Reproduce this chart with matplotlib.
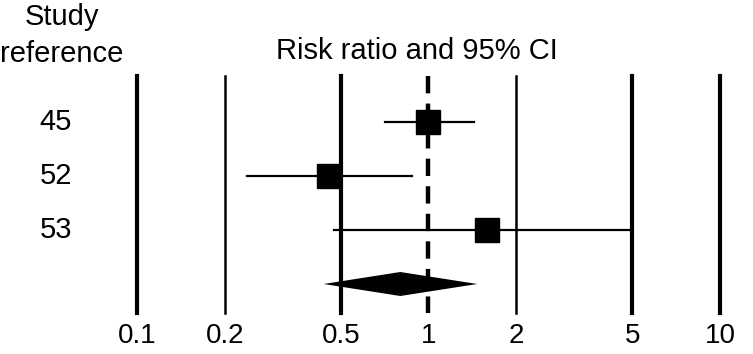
import matplotlib.pyplot as plt
import numpy as np

plt.rcParams['font.family'] = ['Liberation Sans', 'DejaVu Sans']

# Study data (risk ratio and 95% CI)
studies = ["45", "52", "53"]
rr = [1.0, 0.455, 1.59]
ci_low = [0.71, 0.238, 0.475]
ci_high = [1.43, 0.875, 5.0]

# Pooled estimate (diamond)
pooled_rr = 0.80
pooled_low = 0.437
pooled_high = 1.47

ref_lines = [0.1, 0.2, 0.5, 1, 2, 5, 10]
ref_labels = ["0.1", "0.2", "0.5", "1", "2", "5", "10"]
ref_widths = [3.0, 1.8, 3.0, 3.2, 1.8, 3.0, 3.0]

fs = 21

fig = plt.figure(figsize=(7.53, 3.54), dpi=100)
ax = fig.add_axes([0, 0, 1, 1])
ax.set_xscale('log')
# pixel mapping: 0.1 -> 137px, 10 -> 720px
dec = (720 - 137) / 2
ax.set_xlim(10 ** (-1 - 137 / dec), 10 ** (1 + (753 - 720) / dec))
# rows 54px apart, first row at 122px
ax.set_ylim((354 - 122) / 54, -122 / 54)
ax.axis('off')

y_top = (76 - 122) / 54
y_bot = (313 - 122) / 54
for x, lw in zip(ref_lines, ref_widths):
    if x == 1:
        ax.plot([x, x], [y_top, y_bot], color='black', lw=lw,
                dashes=(3.9, 2.3), solid_capstyle='butt', dash_capstyle='butt')
    else:
        ax.plot([x, x], [y_top, y_bot], color='black', lw=lw)

for i, lab in enumerate(ref_labels):
    ax.text(ref_lines[i], (343 - 122) / 54, lab, ha='center', va='baseline', fontsize=20)

rows = np.arange(len(studies))
for i in rows:
    ax.plot([ci_low[i], ci_high[i]], [i, i], color='black', lw=1.6)
    ax.plot(rr[i], i, marker='s', ms=17, color='black', mec='black')
    ax.text(56 / 753, i, studies[i], ha='center', va='center', fontsize=fs,
            transform=ax.get_yaxis_transform())

yd = len(studies)
h = 12 / 54
ax.fill([pooled_low, pooled_rr, pooled_high, pooled_rr],
        [yd, yd - h, yd, yd + h], color='black', lw=0)

fig.text(62 / 753, 1 - 25 / 354, "Study", ha='center', va='baseline', fontsize=fs)
fig.text(62 / 753, 1 - 62 / 354, "reference", ha='center', va='baseline', fontsize=fs)
fig.text(417 / 753, 1 - 59 / 354, "Risk ratio and 95% CI", ha='center', va='baseline',
         fontsize=fs)

fig.savefig('out.png', dpi=100)
